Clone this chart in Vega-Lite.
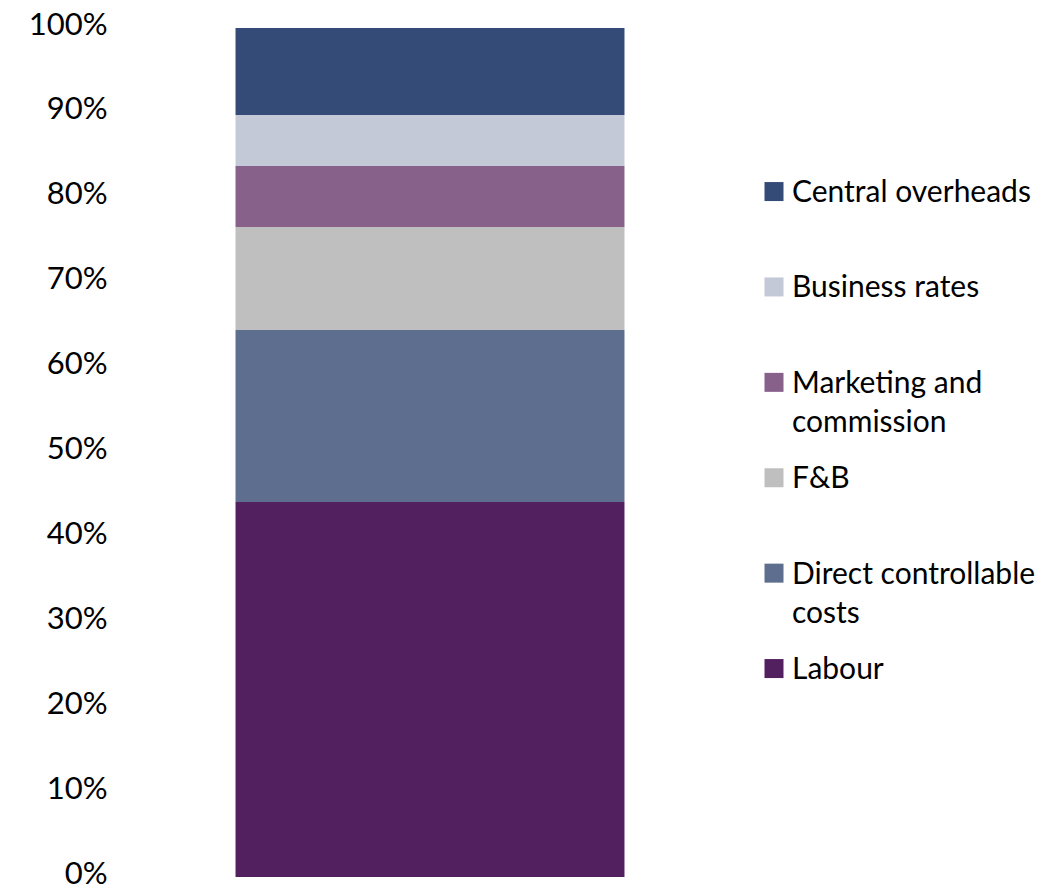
{
  "$schema": "https://vega.github.io/schema/vega-lite/v6.json",
  "width": 620,
  "height": 849,
  "autosize": {"type": "none"},
  "padding": {"left": 120, "top": 28, "right": 324, "bottom": 16},
  "background": "white",
  "data": {
    "values": [
      {"group": "Costs", "category": "Labour", "share": 44.17, "rank": 1},
      {"group": "Costs", "category": "Direct controllable costs", "share": 20.26, "rank": 2},
      {"group": "Costs", "category": "F&B", "share": 12.13, "rank": 3},
      {"group": "Costs", "category": "Marketing and commission", "share": 7.18, "rank": 4},
      {"group": "Costs", "category": "Business rates", "share": 6.0, "rank": 5},
      {"group": "Costs", "category": "Central overheads", "share": 10.26, "rank": 6}
    ]
  },
  "mark": {"type": "bar"},
  "encoding": {
    "x": {
      "field": "group",
      "type": "nominal",
      "axis": null,
      "scale": {"paddingInner": 0, "paddingOuter": 0.297}
    },
    "y": {
      "field": "share",
      "type": "quantitative",
      "stack": "zero",
      "scale": {"domain": [0, 100], "nice": false},
      "axis": {
        "values": [0, 10, 20, 30, 40, 50, 60, 70, 80, 90, 100],
        "labelExpr": "datum.value + '%'",
        "title": null,
        "domain": false,
        "ticks": false,
        "grid": false,
        "labelPadding": 13,
        "labelFont": "Lato",
        "labelFontSize": 31,
        "labelColor": "#000000",
        "labelOffset": -3
      }
    },
    "color": {
      "field": "category",
      "type": "nominal",
      "scale": {
        "domain": ["Central overheads", "Business rates", "Marketing and commission", "F&B", "Direct controllable costs", "Labour"],
        "range": ["#344a77", "#c3c9d7", "#87618a", "#bfbfbf", "#5d6e8e", "#521f5f"]
      },
      "legend": {
        "title": null,
        "orient": "none",
        "legendX": 639,
        "legendY": 159,
        "symbolType": "M-1,-2.1H1V-0.1H-1Z",
        "symbolSize": 361,
        "symbolStrokeWidth": 0,
        "symbolOpacity": 1,
        "labelFont": "Lato",
        "labelFontSize": 30,
        "labelColor": "#000000",
        "labelOffset": 3,
        "labelBaseline": "alphabetic",
        "labelLimit": 400,
        "gridAlign": "all",
        "columns": 1,
        "rowPadding": 26.4,
        "labelExpr": "datum.label == 'Marketing and commission' ? ['Marketing and', 'commission'] : datum.label == 'Direct controllable costs' ? ['Direct controllable', 'costs'] : [datum.label, '']"
      }
    },
    "order": {"field": "rank", "type": "quantitative"}
  },
  "config": {
    "view": {"stroke": null},
    "style": {"guide-label": {"lineHeight": 39}}
  }
}
